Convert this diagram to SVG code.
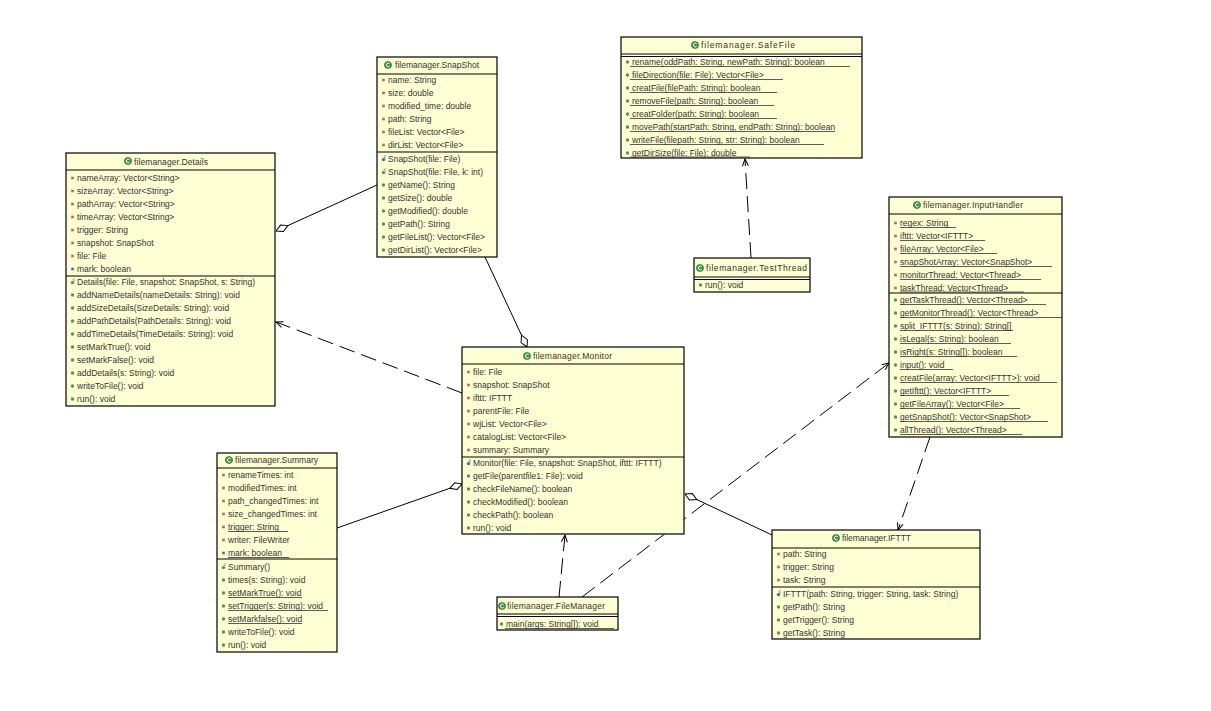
<svg xmlns="http://www.w3.org/2000/svg" width="1211" height="711" viewBox="0 0 1211 711">
<style>
.box{fill:#FFFFD4;stroke:#000;stroke-width:1.2}
.sep{stroke:#000;stroke-width:1}
text{font-family:"Liberation Sans",Arial,sans-serif;font-size:8.5px;fill:#333}
.u{stroke:#333;stroke-width:0.8}
.c{stroke:#000;stroke-width:1;fill:none}
.d{stroke-dasharray:16,7}
</style>
<defs>
<circle id="pub" r="1.7" fill="#4a9a50"/>
<rect id="pri" x="-1.3" y="-1.3" width="2.6" height="2.6" fill="#d05a5a"/>
<rect id="def" x="-1.3" y="-1.3" width="2.6" height="2.6" fill="#4a64c0"/>
<g id="ctg"><circle r="1.7" cy="0.6" fill="#4a9a50"/><path d="M2.4,-3 A1.1,1.1 0 1 0 2.4,-1.4" stroke="#4a9a50" stroke-width="0.7" fill="none"/></g>
<g id="ctb"><circle r="1.7" cy="0.6" fill="#3a6ac0"/><path d="M2.4,-3 A1.1,1.1 0 1 0 2.4,-1.4" stroke="#3a6ac0" stroke-width="0.7" fill="none"/></g>
<g id="cls"><circle r="3.6" fill="#3c9a46" stroke="#2a6a30" stroke-width="0.6"/><path d="M1.6,-1.4 A1.9,1.9 0 1 0 1.6,1.4" stroke="#fff" stroke-width="1" fill="none"/></g>
<marker id="dia" markerUnits="userSpaceOnUse" markerWidth="16" markerHeight="10" refX="0" refY="5" orient="auto" viewBox="0 0 16 10"><path d="M0,5 L6.5,1.5 L13,5 L6.5,8.5 Z" fill="#fff" stroke="#000" stroke-width="1"/></marker>
<marker id="arr" markerUnits="userSpaceOnUse" markerWidth="10" markerHeight="10" refX="9" refY="5" orient="auto" viewBox="0 0 10 10"><path d="M2,2 L9,5 L2,8" fill="none" stroke="#000" stroke-width="1"/></marker>
</defs>
<rect width="1211" height="711" fill="#fff"/>

<g id="connectors">
<path class="c" d="M276,231 L377,185" marker-start="url(#dia)"/>
<path class="c d" d="M462,393 L276,322" marker-end="url(#arr)"/>
<path class="c" d="M527,347 L485,257" marker-start="url(#dia)"/>
<path class="c" d="M462,484 L337,528" marker-start="url(#dia)"/>
<path class="c" d="M685,494 L772,535" marker-start="url(#dia)"/>
<path class="c d" d="M559,597 L565,535" marker-end="url(#arr)"/>
<path class="c d" d="M582,597 L889,363" marker-end="url(#arr)"/>
<path class="c d" d="M930,437 L898,530" marker-end="url(#arr)"/>
<path class="c d" d="M751,258 L745,159" marker-end="url(#arr)"/>
</g>

<g id="Details">
<rect class="box" x="66" y="153" width="209" height="253"/>
<line class="sep" x1="66" y1="170" x2="275" y2="170"/>
<line class="sep" x1="66" y1="276" x2="275" y2="276"/>
<use href="#cls" x="128" y="161"/>
<text x="134" y="165" textLength="74" lengthAdjust="spacing">filemanager.Details</text>
<use href="#pri" x="72.5" y="178"/><text x="77" y="181">nameArray: Vector&lt;String&gt;</text>
<use href="#pri" x="72.5" y="191"/><text x="77" y="194">sizeArray: Vector&lt;String&gt;</text>
<use href="#pri" x="72.5" y="204"/><text x="77" y="207">pathArray: Vector&lt;String&gt;</text>
<use href="#pri" x="72.5" y="217"/><text x="77" y="220">timeArray: Vector&lt;String&gt;</text>
<use href="#pri" x="72.5" y="230"/><text x="77" y="233">trigger: String</text>
<use href="#pri" x="72.5" y="243"/><text x="77" y="246">snapshot: SnapShot</text>
<use href="#pri" x="72.5" y="256"/><text x="77" y="259">file: File</text>
<use href="#def" x="72.5" y="269"/><text x="77" y="272">mark: boolean</text>
<use href="#ctg" x="72.5" y="282"/><text x="77" y="285">Details(file: File, snapshot: SnapShot, s: String)</text>
<use href="#pub" x="72.5" y="295"/><text x="77" y="298">addNameDetails(nameDetails: String): void</text>
<use href="#pub" x="72.5" y="308"/><text x="77" y="311">addSizeDetails(SizeDetails: String): void</text>
<use href="#pub" x="72.5" y="321"/><text x="77" y="324">addPathDetails(PathDetails: String): void</text>
<use href="#pub" x="72.5" y="334"/><text x="77" y="337">addTimeDetails(TimeDetails: String): void</text>
<use href="#pub" x="72.5" y="347"/><text x="77" y="350">setMarkTrue(): void</text>
<use href="#pub" x="72.5" y="360"/><text x="77" y="363">setMarkFalse(): void</text>
<use href="#pub" x="72.5" y="373"/><text x="77" y="376">addDetails(s: String): void</text>
<use href="#pub" x="72.5" y="386"/><text x="77" y="389">writeToFile(): void</text>
<use href="#pub" x="72.5" y="399"/><text x="77" y="402">run(): void</text>
</g>

<g id="SnapShot">
<rect class="box" x="377" y="57" width="120" height="200"/>
<line class="sep" x1="377" y1="74" x2="497" y2="74"/>
<line class="sep" x1="377" y1="152" x2="497" y2="152"/>
<use href="#cls" x="388" y="65"/>
<text x="395" y="68" textLength="84" lengthAdjust="spacing">filemanager.SnapShot</text>
<use href="#pri" x="383.5" y="80"/><text x="388" y="83">name: String</text>
<use href="#pri" x="383.5" y="93"/><text x="388" y="96">size: double</text>
<use href="#pri" x="383.5" y="106"/><text x="388" y="109">modified_time: double</text>
<use href="#pri" x="383.5" y="119"/><text x="388" y="122">path: String</text>
<use href="#pri" x="383.5" y="132"/><text x="388" y="135">fileList: Vector&lt;File&gt;</text>
<use href="#pri" x="383.5" y="145"/><text x="388" y="148">dirList: Vector&lt;File&gt;</text>
<use href="#ctb" x="383.5" y="159"/><text x="388" y="162">SnapShot(file: File)</text>
<use href="#ctg" x="383.5" y="172"/><text x="388" y="175">SnapShot(file: File, k: int)</text>
<use href="#pub" x="383.5" y="185"/><text x="388" y="188">getName(): String</text>
<use href="#pub" x="383.5" y="198"/><text x="388" y="201">getSize(): double</text>
<use href="#pub" x="383.5" y="211"/><text x="388" y="214">getModified(): double</text>
<use href="#pub" x="383.5" y="224"/><text x="388" y="227">getPath(): String</text>
<use href="#pub" x="383.5" y="237"/><text x="388" y="240">getFileList(): Vector&lt;File&gt;</text>
<use href="#pub" x="383.5" y="250"/><text x="388" y="253">getDirList(): Vector&lt;File&gt;</text>
</g>

<g id="SafeFile">
<rect class="box" x="621" y="37" width="241" height="121"/>
<line class="sep" x1="621" y1="54" x2="862" y2="54"/>
<line class="sep" x1="621" y1="56.5" x2="862" y2="56.5"/>
<use href="#cls" x="695" y="45"/>
<text x="701" y="48" textLength="94" lengthAdjust="spacing">filemanager.SafeFile</text>
<use href="#pub" x="627.5" y="62"/><text x="632" y="65">rename(oddPath: String, newPath: String): boolean</text><line class="u" x1="630" y1="66.5" x2="850" y2="66.5"/>
<use href="#pub" x="627.5" y="75"/><text x="632" y="78">fileDirection(file: File): Vector&lt;File&gt;</text><line class="u" x1="630" y1="79.5" x2="783" y2="79.5"/>
<use href="#pub" x="627.5" y="88"/><text x="632" y="91">creatFile(filePath: String): boolean</text><line class="u" x1="630" y1="92.5" x2="777" y2="92.5"/>
<use href="#pub" x="627.5" y="101"/><text x="632" y="104">removeFile(path: String): boolean</text><line class="u" x1="630" y1="105.5" x2="774" y2="105.5"/>
<use href="#pub" x="627.5" y="114"/><text x="632" y="117">creatFolder(path: String): boolean</text><line class="u" x1="630" y1="118.5" x2="777" y2="118.5"/>
<use href="#pub" x="627.5" y="127"/><text x="632" y="130">movePath(startPath: String, endPath: String): boolean</text><line class="u" x1="630" y1="131.5" x2="835" y2="131.5"/>
<use href="#pub" x="627.5" y="140"/><text x="632" y="143">writeFile(filepath: String, str: String): boolean</text><line class="u" x1="630" y1="144.5" x2="824" y2="144.5"/>
<use href="#pub" x="627.5" y="153"/><text x="632" y="156">getDirSize(file: File): double</text><line class="u" x1="630" y1="157" x2="750" y2="157"/>
</g>

<g id="TestThread">
<rect class="box" x="694" y="258" width="116" height="34"/>
<line class="sep" x1="694" y1="277" x2="810" y2="277"/>
<line class="sep" x1="694" y1="279.5" x2="810" y2="279.5"/>
<use href="#cls" x="700" y="268"/>
<text x="706" y="271" textLength="101" lengthAdjust="spacing">filemanager.TestThread</text>
<use href="#pub" x="700.5" y="285"/><text x="705" y="288">run(): void</text>
</g>

<g id="InputHandler">
<rect class="box" x="889" y="197" width="173" height="240"/>
<line class="sep" x1="889" y1="214" x2="1062" y2="214"/>
<line class="sep" x1="889" y1="293" x2="1062" y2="293"/>
<use href="#cls" x="917" y="205"/>
<text x="923" y="208" textLength="100" lengthAdjust="spacing">filemanager.InputHandler</text>
<use href="#pri" x="895.5" y="223"/><text x="900" y="226">regex: String</text><line class="u" x1="900" y1="227.5" x2="956" y2="227.5"/>
<use href="#pri" x="895.5" y="236"/><text x="900" y="239">ifttt: Vector&lt;IFTTT&gt;</text><line class="u" x1="900" y1="240.5" x2="985" y2="240.5"/>
<use href="#pri" x="895.5" y="249"/><text x="900" y="252">fileArray: Vector&lt;File&gt;</text><line class="u" x1="900" y1="253.5" x2="997" y2="253.5"/>
<use href="#pri" x="895.5" y="262"/><text x="900" y="265">snapShotArray: Vector&lt;SnapShot&gt;</text><line class="u" x1="900" y1="266.5" x2="1052" y2="266.5"/>
<use href="#pri" x="895.5" y="275"/><text x="900" y="278">monitorThread: Vector&lt;Thread&gt;</text><line class="u" x1="900" y1="279.5" x2="1041" y2="279.5"/>
<use href="#pri" x="895.5" y="288"/><text x="900" y="291">taskThread: Vector&lt;Thread&gt;</text><line class="u" x1="900" y1="292" x2="1024" y2="292"/>
<use href="#pub" x="895.5" y="300"/><text x="900" y="303">getTaskThread(): Vector&lt;Thread&gt;</text><line class="u" x1="900" y1="304.5" x2="1046" y2="304.5"/>
<use href="#pub" x="895.5" y="313"/><text x="900" y="316">getMonitorThread(): Vector&lt;Thread&gt;</text><line class="u" x1="900" y1="317.5" x2="1062" y2="317.5"/>
<use href="#pub" x="895.5" y="326"/><text x="900" y="329">split_IFTTT(s: String): String[]</text><line class="u" x1="900" y1="330.5" x2="1013" y2="330.5"/>
<use href="#pub" x="895.5" y="339"/><text x="900" y="342">isLegal(s: String): boolean</text><line class="u" x1="900" y1="343.5" x2="1011" y2="343.5"/>
<use href="#pub" x="895.5" y="352"/><text x="900" y="355">isRight(s: String[]): boolean</text><line class="u" x1="900" y1="356.5" x2="1017" y2="356.5"/>
<use href="#pub" x="895.5" y="365"/><text x="900" y="368">input(): void</text><line class="u" x1="900" y1="369.5" x2="953" y2="369.5"/>
<use href="#pub" x="895.5" y="378"/><text x="900" y="381">creatFile(array: Vector&lt;IFTTT&gt;): void</text><line class="u" x1="900" y1="382.5" x2="1057" y2="382.5"/>
<use href="#pub" x="895.5" y="391"/><text x="900" y="394">getIfttt(): Vector&lt;IFTTT&gt;</text><line class="u" x1="900" y1="395.5" x2="1009" y2="395.5"/>
<use href="#pub" x="895.5" y="404"/><text x="900" y="407">getFileArray(): Vector&lt;File&gt;</text><line class="u" x1="900" y1="408.5" x2="1020" y2="408.5"/>
<use href="#pub" x="895.5" y="417"/><text x="900" y="420">getSnapShot(): Vector&lt;SnapShot&gt;</text><line class="u" x1="900" y1="421.5" x2="1048" y2="421.5"/>
<use href="#pub" x="895.5" y="430"/><text x="900" y="433">allThread(): Vector&lt;Thread&gt;</text><line class="u" x1="900" y1="434.5" x2="1022" y2="434.5"/>
</g>

<g id="Monitor">
<rect class="box" x="462" y="347" width="222" height="187"/>
<line class="sep" x1="462" y1="364" x2="684" y2="364"/>
<line class="sep" x1="462" y1="457" x2="684" y2="457"/>
<use href="#cls" x="527" y="356"/>
<text x="533" y="359" textLength="79" lengthAdjust="spacing">filemanager.Monitor</text>
<use href="#pri" x="468.5" y="372"/><text x="473" y="375">file: File</text>
<use href="#pri" x="468.5" y="385"/><text x="473" y="388">snapshot: SnapShot</text>
<use href="#pri" x="468.5" y="398"/><text x="473" y="401">ifttt: IFTTT</text>
<use href="#pri" x="468.5" y="411"/><text x="473" y="414">parentFile: File</text>
<use href="#pri" x="468.5" y="424"/><text x="473" y="427">wjList: Vector&lt;File&gt;</text>
<use href="#pri" x="468.5" y="437"/><text x="473" y="440">catalogList: Vector&lt;File&gt;</text>
<use href="#pri" x="468.5" y="450"/><text x="473" y="453">summary: Summary</text>
<use href="#ctb" x="468.5" y="463"/><text x="473" y="466">Monitor(file: File, snapshot: SnapShot, ifttt: IFTTT)</text>
<use href="#pub" x="468.5" y="476"/><text x="473" y="479">getFile(parentfile1: File): void</text>
<use href="#pub" x="468.5" y="489"/><text x="473" y="492">checkFileName(): boolean</text>
<use href="#pub" x="468.5" y="502"/><text x="473" y="505">checkModified(): boolean</text>
<use href="#pub" x="468.5" y="515"/><text x="473" y="518">checkPath(): boolean</text>
<use href="#pub" x="468.5" y="528"/><text x="473" y="531">run(): void</text>
</g>

<g id="Summary">
<rect class="box" x="217" y="453" width="120" height="199"/>
<line class="sep" x1="217" y1="468" x2="337" y2="468"/>
<line class="sep" x1="217" y1="559" x2="337" y2="559"/>
<use href="#cls" x="229" y="460"/>
<text x="235" y="463" textLength="83" lengthAdjust="spacing">filemanager.Summary</text>
<use href="#pri" x="223.5" y="475"/><text x="228" y="478">renameTimes: int</text>
<use href="#pri" x="223.5" y="488"/><text x="228" y="491">modifiedTimes: int</text>
<use href="#pri" x="223.5" y="501"/><text x="228" y="504">path_changedTimes: int</text>
<use href="#pri" x="223.5" y="514"/><text x="228" y="517">size_changedTimes: int</text>
<use href="#pri" x="223.5" y="527"/><text x="228" y="530">trigger: String</text><line class="u" x1="228" y1="531.5" x2="288" y2="531.5"/>
<use href="#pri" x="223.5" y="540"/><text x="228" y="543">writer: FileWriter</text>
<use href="#def" x="223.5" y="553"/><text x="228" y="556">mark: boolean</text><line class="u" x1="228" y1="557.5" x2="289" y2="557.5"/>
<use href="#ctg" x="223.5" y="567"/><text x="228" y="570">Summary()</text>
<use href="#pub" x="223.5" y="580"/><text x="228" y="583">times(s: String): void</text>
<use href="#pub" x="223.5" y="593"/><text x="228" y="596">setMarkTrue(): void</text><line class="u" x1="228" y1="597.5" x2="302" y2="597.5"/>
<use href="#pub" x="223.5" y="606"/><text x="228" y="609">setTrigger(s: String): void</text><line class="u" x1="228" y1="610.5" x2="328" y2="610.5"/>
<use href="#pub" x="223.5" y="619"/><text x="228" y="622">setMarkfalse(): void</text><line class="u" x1="228" y1="623.5" x2="302" y2="623.5"/>
<use href="#pub" x="223.5" y="632"/><text x="228" y="635">writeToFile(): void</text>
<use href="#pub" x="223.5" y="645"/><text x="228" y="648">run(): void</text>
</g>

<g id="FileManager">
<rect class="box" x="497" y="597" width="121" height="33"/>
<line class="sep" x1="497" y1="614" x2="618" y2="614"/>
<line class="sep" x1="497" y1="616.5" x2="618" y2="616.5"/>
<use href="#cls" x="502" y="606"/>
<text x="507" y="609" textLength="98" lengthAdjust="spacing">filemanager.FileManager</text>
<use href="#pub" x="501.5" y="624"/><text x="506" y="627">main(args: String[]): void</text><line class="u" x1="505" y1="628.5" x2="614" y2="628.5"/>
</g>

<g id="IFTTT">
<rect class="box" x="772" y="530" width="208" height="109"/>
<line class="sep" x1="772" y1="548" x2="980" y2="548"/>
<line class="sep" x1="772" y1="587" x2="980" y2="587"/>
<use href="#cls" x="836" y="538"/>
<text x="842" y="541" textLength="69" lengthAdjust="spacing">filemanager.IFTTT</text>
<use href="#pri" x="778.5" y="554"/><text x="783" y="557">path: String</text>
<use href="#pri" x="778.5" y="567"/><text x="783" y="570">trigger: String</text>
<use href="#pri" x="778.5" y="580"/><text x="783" y="583">task: String</text>
<use href="#ctb" x="778.5" y="594"/><text x="783" y="597">IFTTT(path: String, trigger: String, task: String)</text>
<use href="#pub" x="778.5" y="607"/><text x="783" y="610">getPath(): String</text>
<use href="#pub" x="778.5" y="620"/><text x="783" y="623">getTrigger(): String</text>
<use href="#pub" x="778.5" y="633"/><text x="783" y="636">getTask(): String</text>
</g>
</svg>
